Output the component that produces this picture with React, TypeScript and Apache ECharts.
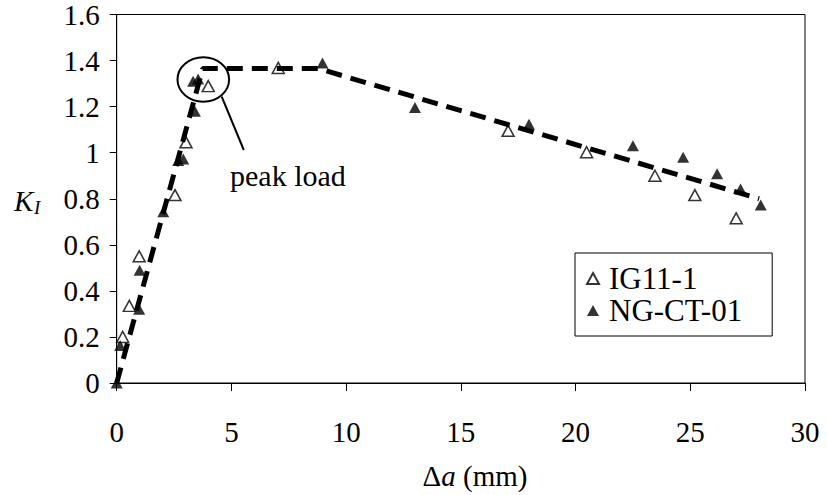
import React, { useEffect, useRef } from "react";
import * as echarts from "echarts";

const xIG = [0.26, 0.55, 0.98, 2.54, 3.02, 3.99, 7.04, 17.06, 20.48, 23.46, 25.2, 27.0];
const yIG = [0.2, 0.335, 0.55, 0.816, 1.045, 1.289, 1.368, 1.095, 1.002, 0.9, 0.816, 0.715];

const xNG = [0, 0.15, 0.98, 1.0, 2.03, 2.68, 2.9, 3.41, 3.33, 3.55, 8.97, 13.0, 17.97, 22.5, 24.69, 26.17, 27.19, 28.07];
const yNG = [0, 0.163, 0.32, 0.49, 0.744, 0.966, 0.973, 1.18, 1.31, 1.32, 1.389, 1.196, 1.124, 1.03, 0.98, 0.909, 0.842, 0.773];

const xFit = [0, 3.75, 8.8, 28];
const yFit = [0, 1.365, 1.365, 0.8];

const FONT = "Liberation Serif";

export default function App() {
  const ref = useRef<HTMLDivElement>(null);
  useEffect(() => {
    if (!ref.current) return;
    const chart = echarts.init(ref.current, null, { renderer: "svg" });
    const pair = (xs: number[], ys: number[]) => xs.map((x, i) => [x, ys[i]]);
    chart.setOption({
      animation: false,
      backgroundColor: "#fff",
      textStyle: { fontFamily: FONT, color: "#000" },
      grid: {
        left: 116.7,
        right: 22,
        top: 11,
        bottom: 112,
        show: true,
        borderColor: "#000",
        borderWidth: 1,
        backgroundColor: "transparent",
      },
      xAxis: {
        type: "value",
        min: 0,
        max: 30,
        interval: 5,
        axisLine: { show: true, lineStyle: { color: "#000", width: 1 } },
        axisTick: { show: true, inside: false, length: 8, lineStyle: { color: "#000" } },
        axisLabel: { fontSize: 29, fontFamily: FONT, color: "#000", margin: 34 },
        splitLine: { show: false },
      },
      yAxis: {
        type: "value",
        min: 0,
        max: 1.6,
        interval: 0.2,
        axisLine: { show: true, lineStyle: { color: "#000", width: 1 } },
        axisTick: { show: true, inside: false, length: 7, lineStyle: { color: "#000" } },
        axisLabel: {
          fontSize: 29,
          fontFamily: FONT,
          color: "#000",
          margin: 17,
          padding: [18, 0, 0, 0],
        },
        splitLine: { show: false },
      },
      legend: {
        data: ["IG11-1", "NG-CT-01"],
        orient: "vertical",
        left: 575,
        top: 253,
        width: 192,
        padding: [10, 30, 10, 11],
        itemGap: 1,
        itemWidth: 12,
        itemHeight: 11,
        borderColor: "#000",
        borderWidth: 1,
        backgroundColor: "#fff",
        textStyle: { fontSize: 31, fontFamily: FONT, color: "#000", padding: [0, 0, 0, 5] },
      },
      series: [
        {
          name: "IG11-1",
          type: "scatter",
          symbol: "triangle",
          symbolSize: [12, 11],
          itemStyle: { color: "#fff", borderColor: "#000", borderWidth: 1.5 },
          data: pair(xIG, yIG),
          z: 3,
        },
        {
          name: "NG-CT-01",
          type: "scatter",
          symbol: "triangle",
          symbolSize: [12, 11],
          itemStyle: { color: "#000", borderColor: "#000", borderWidth: 0 },
          data: pair(xNG, yNG),
          z: 3,
        },
        {
          name: "fit",
          type: "line",
          symbol: "none",
          showSymbol: false,
          lineStyle: { color: "#000", width: 5, type: [16, 9] },
          data: pair(xFit, yFit),
          z: 4,
        },
      ],
      graphic: [
        {
          type: "ellipse",
          shape: { cx: 203.3, cy: 79.5, rx: 25.8, ry: 22.2 },
          style: { fill: "none", stroke: "#000", lineWidth: 2 },
          z: 10,
        },
        {
          type: "line",
          shape: { x1: 221.7, y1: 96.7, x2: 243.8, y2: 150 },
          style: { stroke: "#000", lineWidth: 2 },
          z: 10,
        },
        {
          type: "text",
          left: 230,
          top: 160,
          style: {
            text: "peak load",
            fontSize: 30,
            fontFamily: FONT,
            fill: "#000",
          },
          z: 10,
        },
        {
          type: "text",
          x: 475,
          y: 476,
          style: {
            text: "{n|Δ}{i|a}{n| (mm)}",
            align: "center",
            verticalAlign: "middle",
            rich: {
              n: { fontSize: 29, fontFamily: FONT, fill: "#000", color: "#000" },
              i: { fontSize: 29, fontFamily: FONT, fontStyle: "italic", fill: "#000", color: "#000" },
            },
          },
          z: 10,
        },
        {
          type: "text",
          x: 14,
          y: 201,
          style: {
            text: "K",
            fontSize: 29,
            fontFamily: FONT,
            fontStyle: "italic",
            fill: "#000",
            verticalAlign: "middle",
          },
          z: 10,
        },
        {
          type: "text",
          x: 34,
          y: 207,
          style: {
            text: "I",
            fontSize: 19,
            fontFamily: FONT,
            fontStyle: "italic",
            fill: "#000",
            verticalAlign: "middle",
          },
          z: 10,
        },
      ],
    });
    return () => chart.dispose();
  }, []);
  return (
    <div
      ref={ref}
      style={{ position: "fixed", left: 0, top: 0, width: 827, height: 495 }}
    />
  );
}
